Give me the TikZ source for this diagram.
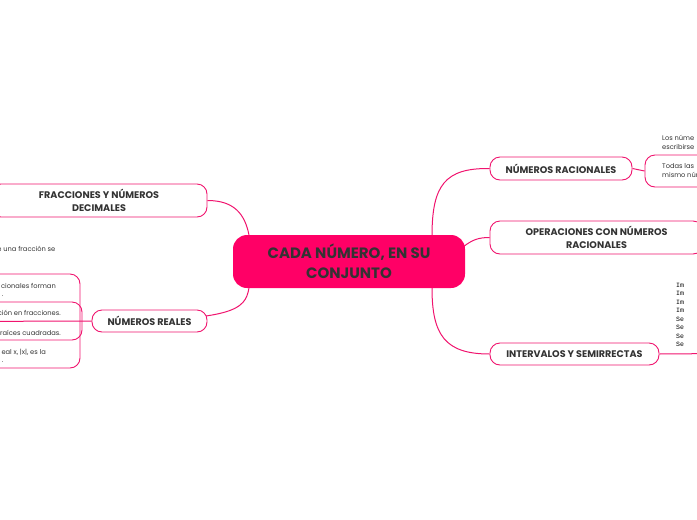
\documentclass[tikz,border=0pt]{standalone}
\usepackage{fontspec}
\setmainfont{Poppins}
\newfontfamily\monof{Liberation Mono}
\definecolor{pinkc}{HTML}{FF0066}
\definecolor{linec}{HTML}{F0146E}
\definecolor{txt}{HTML}{333333}
\pgfdeclarelayer{bg}
\pgfsetlayers{bg,main}
\begin{document}
\begin{tikzpicture}[x=1pt,y=-1pt,
  topic/.style={draw=linec, line width=0.9pt, fill=white, rounded corners=10pt, inner sep=0pt, text=txt, font=\fontsize{9.6}{12.5}\selectfont\bfseries, align=center},
  central/.style={fill=pinkc, rounded corners=14pt, inner sep=0pt, text=txt, font=\fontsize{15}{20}\selectfont\bfseries, align=center, minimum width=232pt, minimum height=53pt},
  conn/.style={draw=linec, line width=1pt},
  small/.style={text=txt, font=\fontsize{6.7}{9.5}\selectfont, inner sep=0pt},
  mono/.style={text=black, font=\monof\fontsize{6.5}{8.5}\selectfont, inner sep=0pt, anchor=west}
]
\useasboundingbox (0,0) rectangle (697,520);

% central
\node[central] (c) at (349,261.5) {CADA NÚMERO, EN SU\\CONJUNTO};

% main topics
\node[topic, minimum width=142pt, minimum height=23pt] (nrac) at (561,168.5) {NÚMEROS RACIONALES};
\node[topic, minimum width=213pt, minimum height=33pt] (oper) at (596.5,237.5) {OPERACIONES CON NÚMEROS\\RACIONALES};
\node[topic, minimum width=169pt, minimum height=22pt] (inter) at (574.5,354) {INTERVALOS Y SEMIRRECTAS};
\node[topic, minimum width=216pt, minimum height=33pt] (frac) at (99,200.5) {FRACCIONES Y NÚMEROS\\DECIMALES};
\node[topic, minimum width=115pt, minimum height=22pt] (nreal) at (149.5,321) {NÚMEROS REALES};

% right children of NUMEROS RACIONALES
\node[small, anchor=west, align=left] (t1) at (662,142.5) {Los núme\\escribirse};
\node[draw=linec, line width=0.9pt, fill=white, rounded corners=10pt, minimum width=80pt, minimum height=32pt, inner sep=0pt] (t2box) at (685,171) {};
\node[small, anchor=west, align=left] (t2) at (662,170.5) {Todas las\\mismo núm};

% right children of INTERVALOS
\coordinate (iend) at (710,353.6);
\node[mono] (m1) at (676,285) {Im};
\node[mono] (m2) at (676,293.5) {Im};
\node[mono] (m3) at (676,302) {Im};
\node[mono] (m4) at (676,310.5) {Im};
\node[mono] (m5) at (676,319) {Se};
\node[mono] (m6) at (676,327.5) {Se};
\node[mono] (m7) at (676,336) {Se};
\node[mono] (m8) at (676,344.5) {Se};

% left children of FRACCIONES
\node[small, anchor=east] (f1) at (55.5,249) {e una fracción se};

% left children of NUMEROS REALES
\node[draw=linec, line width=0.9pt, rounded corners=10pt, minimum width=110pt, minimum height=94pt, inner sep=0pt] (ob) at (25,321) {};
\node[draw=linec, line width=0.9pt, rounded corners=10pt, minimum width=112pt, minimum height=38pt, inner sep=0pt] (ib) at (26,321) {};
\coordinate (lend) at (-20,321.4);
\node[small, anchor=east] (r1) at (56,286) {cionales forman};
\node[small, anchor=east] (r1b) at (3.5,296) {.};
\node[small, anchor=east] (r2) at (61,313) {ción en fracciones.};
\node[small, anchor=east] (r3) at (61,333) {raíces cuadradas.};
\node[small, anchor=east] (r4) at (46,352.5) {eal x, |x|, es la};
\node[small, anchor=east] (r4b) at (3.5,362) {.};

% connectors
\begin{pgfonlayer}{bg}
\draw[conn] (432,236) .. controls (432,185) and (445,168) .. (nrac.west);
\draw[conn] (463,247) .. controls (472,240) and (478,237.5) .. (oper.west);
\draw[conn] (432,288) .. controls (432,335) and (445,354) .. (inter.west);
\draw[conn] (249,235) .. controls (245,215) and (235,200.5) .. (frac.east);
\draw[conn] (249,288) .. controls (245,310) and (235,321) .. (nreal.west);
\draw[conn] (nrac.east) -- (t2box.west);
\draw[conn] (inter.east) -- (iend);
\draw[conn] (nreal.west) -- (lend);
\end{pgfonlayer}
\end{tikzpicture}
\end{document}
